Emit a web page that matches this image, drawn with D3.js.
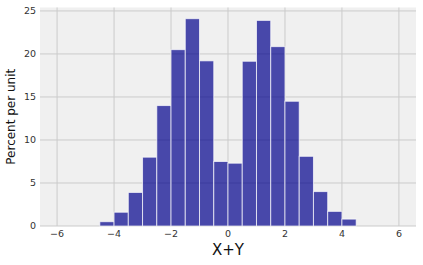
<!DOCTYPE html>
<html>
<head>
<meta charset="utf-8">
<script src="https://cdn.jsdelivr.net/npm/d3@7"></script>
<style>
  body { margin: 0; background: #fff; }
  text { font-family: "DejaVu Sans", sans-serif; }
</style>
</head>
<body>
<div id="chart"></div>
<script>
// Data: bin edges (width 0.5) and heights in percent per unit
const binStarts = [-4.5, -4, -3.5, -3, -2.5, -2, -1.5, -1, -0.5, 0, 0.5, 1, 1.5, 2, 2.5, 3, 3.5, 4]
const binWidth = 0.5
const heights = [0.5, 1.6, 3.9, 8.0, 14.0, 20.5, 24.1, 19.2, 7.5, 7.3, 19.15, 23.9, 20.85, 14.5, 8.1, 4.0, 1.7, 0.8]
const xTicks = [-6, -4, -2, 0, 2, 4, 6]
const yTicks = [0, 5, 10, 15, 20, 25]

function draw() {
  const width = 423, height = 265
  const plot = { left: 40, right: 416, top: 7.5, bottom: 226 }

  const svg = d3.select('#chart')
    .append('svg')
    .attr('width', width)
    .attr('height', height)

  const x = d3.scaleLinear().domain([-6.6, 6.6]).range([plot.left, plot.right])
  const y = d3.scaleLinear().domain([0, 25.4]).range([plot.bottom, plot.top])

  // background
  svg.append('rect')
    .attr('x', plot.left)
    .attr('y', plot.top)
    .attr('width', plot.right - plot.left)
    .attr('height', plot.bottom - plot.top)
    .attr('fill', '#f0f0f0')

  // grid
  svg.append('g').selectAll('line')
    .data(xTicks)
    .join('line')
    .attr('x1', d => x(d)).attr('x2', d => x(d))
    .attr('y1', plot.top).attr('y2', plot.bottom)
    .attr('stroke', '#cbcbcb').attr('stroke-width', 1)

  svg.append('g').selectAll('line')
    .data(yTicks)
    .join('line')
    .attr('x1', plot.left).attr('x2', plot.right)
    .attr('y1', d => y(d)).attr('y2', d => y(d))
    .attr('stroke', '#cbcbcb').attr('stroke-width', 1)

  // bars
  const bins = binStarts.map((s, i) => ({ x0: s, x1: s + binWidth, h: heights[i] }))
  svg.append('g').selectAll('rect')
    .data(bins)
    .join('rect')
    .attr('x', d => x(d.x0))
    .attr('width', d => x(d.x1) - x(d.x0))
    .attr('y', d => y(d.h))
    .attr('height', d => y(0) - y(d.h))
    .attr('fill', 'darkblue')
    .attr('fill-opacity', 0.7)
    .attr('stroke', '#ffffff')
    .attr('stroke-opacity', 0.7)
    .attr('stroke-width', 1)

  // tick labels
  svg.append('g').selectAll('text')
    .data(xTicks)
    .join('text')
    .attr('x', d => x(d))
    .attr('y', 237)
    .attr('text-anchor', 'middle')
    .attr('font-size', 9.5)
    .attr('fill', '#333')
    .text(d => d < 0 ? '\u2212' + Math.abs(d) : d)

  svg.append('g').selectAll('text')
    .data(yTicks)
    .join('text')
    .attr('x', 36)
    .attr('y', d => y(d))
    .attr('dy', '0.35em')
    .attr('text-anchor', 'end')
    .attr('font-size', 9.5)
    .attr('fill', '#333')
    .text(d => d)

  // axis titles
  svg.append('text')
    .attr('x', x(0))
    .attr('y', 254.5)
    .attr('text-anchor', 'middle')
    .attr('font-size', 15)
    .attr('fill', '#111')
    .text('X+Y')

  svg.append('text')
    .attr('transform', `translate(15, ${(plot.top + plot.bottom) / 2}) rotate(-90)`)
    .attr('text-anchor', 'middle')
    .attr('font-size', 12)
    .attr('fill', '#111')
    .text('Percent per unit')
}

draw()
</script>
</body>
</html>
